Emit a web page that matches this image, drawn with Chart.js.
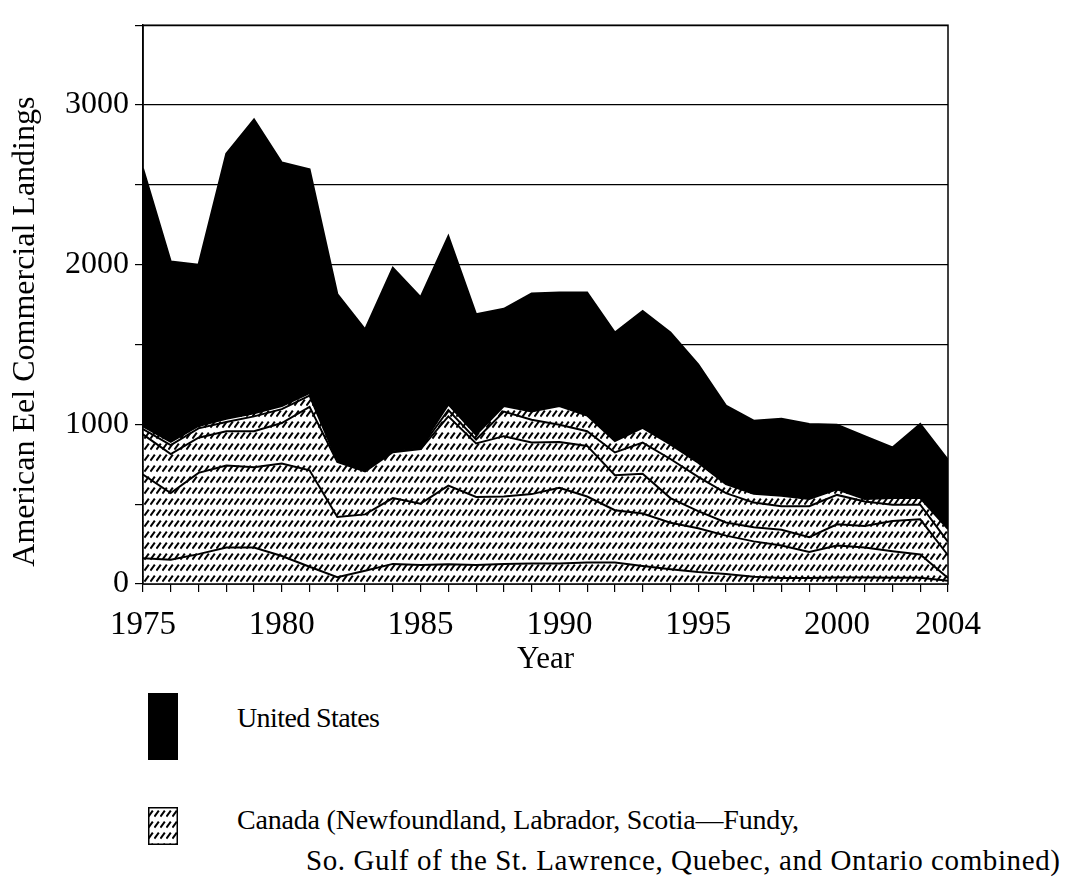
<!DOCTYPE html>
<html>
<head>
<meta charset="utf-8">
<script src="https://cdn.jsdelivr.net/npm/chart.js@4.4.1/dist/chart.umd.min.js"></script>
<style>
  body { margin: 0; background: #fff; }
  #wrap { position: relative; width: 1080px; height: 895px; font-family: "Liberation Serif", "Times New Roman", serif; color: #000; }
  #chart { position: absolute; left: 0; top: 0; }
  .key { position: absolute; left: 148px; }
  .txt { position: absolute; font-size: 28px; line-height: 32px; white-space: nowrap; }
</style>
</head>
<body>
<div id="wrap">
  <canvas id="chart" width="1080" height="690"></canvas>
  <div class="key" style="top:693px;width:30px;height:67px;background:#000"></div>
  <div class="txt" style="left:237px;top:702px;letter-spacing:-0.6px">United States</div>
  <canvas class="key" id="keyCA" width="30" height="38" style="top:807px"></canvas>
  <div class="txt" style="left:237px;top:804px;letter-spacing:-0.2px">Canada (Newfoundland, Labrador, Scotia—Fundy,</div>
  <div class="txt" style="left:306px;top:844px;font-size:29px;letter-spacing:0.6px">So. Gulf of the St. Lawrence, Quebec, and Ontario combined)</div>
</div>
<script>
// years on the x axis
const years = [1975, 1976, 1977, 1978, 1979, 1980, 1981, 1982, 1983, 1984,
  1985, 1986, 1987, 1988, 1989, 1990, 1991, 1992, 1993, 1994,
  1995, 1996, 1997, 1998, 1999, 2000, 2001, 2002, 2003, 2004];
const xLabels = [1975, 1980, 1985, 1990, 1995, 2000, 2004];

// Canadian bands, bottom to top (stacked)
const canada1 = [162, 152, 187, 228, 228, 175, 108, 42, 83, 126,
  119, 123, 119, 125, 129, 129, 134, 134, 113, 93,
  75, 62, 45, 38, 38, 40, 40, 39, 39, 20];
const canada2 = [524, 418, 509, 514, 504, 580, 604, 378, 353, 412,
  384, 493, 426, 423, 434, 474, 414, 328, 328, 291,
  274, 241, 222, 203, 162, 201, 188, 166, 146, 17];
const canada3 = [251, 244, 220, 215, 225, 253, 398, 345, 269, 287,
  342, 434, 335, 378, 323, 287, 317, 219, 250, 154,
  107, 82, 88, 99, 93, 133, 136, 189, 220, 143];
const canada4 = [33, 56, 59, 58, 93, 87, 70, 5, 7, 5,
  5, 40, 25, 154, 143, 108, 92, 143, 195, 245,
  215, 184, 155, 147, 194, 184, 153, 103, 92, 84];
const canada5 = [18, 20, 15, 20, 19, 20, 15, 10, 3, 10,
  8, 35, 30, 35, 51, 117, 98, 72, 92, 92,
  89, 56, 55, 65, 46, 35, 16, 41, 41, 80];
// United States, stacked on top of Canada
const unitedStates = [1615, 1130, 1010, 1660, 1841, 1525, 1402, 1036, 880, 1140,
  938, 1053, 754, 609, 740, 711, 771, 679, 732, 700,
  616, 492, 458, 483, 469, 405, 393, 317, 464, 433];

const FONT = '"Liberation Serif", "Times New Roman", serif';
const yTitle = 'American Eel Commercial Landings';

function hatchTile() {
  const c = document.createElement('canvas');
  c.width = 6; c.height = 11;
  const g = c.getContext('2d');
  g.fillStyle = '#fff';
  g.fillRect(0, 0, 6, 11);
  g.strokeStyle = '#000';
  g.lineWidth = 2;
  g.beginPath();
  g.moveTo(0.4, 9.6);
  g.lineTo(4.8, 3.6);
  g.stroke();
  return c;
}

const canvas = document.getElementById('chart');
const ctx = canvas.getContext('2d');
const hatch = ctx.createPattern(hatchTile(), 'repeat');

// legend swatch for Canada
const kc = document.getElementById('keyCA').getContext('2d');
kc.fillStyle = kc.createPattern(hatchTile(), 'repeat');
kc.fillRect(0, 0, 30, 38);
kc.strokeStyle = '#000';
kc.lineWidth = 1.5;
kc.strokeRect(0.75, 0.75, 28.5, 36.5);

function band(label, values, fill, color) {
  return {
    label: label,
    data: years.map((x, i) => ({ x: x, y: values[i] })),
    fill: fill,
    backgroundColor: color,
    borderColor: '#000',
    borderWidth: 2,
    pointRadius: 0,
    tension: 0
  };
}

// box round the plot plus the rotated y title
const frame = {
  id: 'frame',
  afterDatasetsDraw(chart) {
    const a = chart.chartArea;
    const c = chart.ctx;
    c.save();
    c.strokeStyle = '#000';
    c.lineWidth = 1.5;
    c.strokeRect(a.left, a.top, a.right - a.left, a.bottom - a.top);
    c.translate(26, (a.top + a.bottom) / 2 + 27);
    c.rotate(-Math.PI / 2);
    c.fillStyle = '#000';
    c.font = '32px ' + FONT;
    c.textAlign = 'center';
    c.textBaseline = 'middle';
    c.fillText(yTitle, 0, 0);
    c.restore();
  }
};

new Chart(ctx, {
  type: 'line',
  data: {
    datasets: [
      band('Canada 1', canada1, 'origin', hatch),
      band('Canada 2', canada2, '-1', hatch),
      band('Canada 3', canada3, '-1', hatch),
      band('Canada 4', canada4, '-1', hatch),
      band('Canada 5', canada5, '-1', hatch),
      band('United States', unitedStates, '-1', '#000')
    ]
  },
  plugins: [frame],
  options: {
    responsive: false,
    animation: false,
    devicePixelRatio: 1,
    layout: { padding: { top: 14, right: 132, left: 0, bottom: 0 } },
    plugins: { legend: { display: false }, tooltip: { enabled: false } },
    scales: {
      x: {
        type: 'linear',
        min: 1975,
        max: 2004,
        afterFit: s => { s.height = 106; },
        grid: { drawOnChartArea: false, drawTicks: true, tickLength: 8, color: '#000', lineWidth: 1.2 },
        border: { color: '#000', width: 1.5 },
        ticks: {
          stepSize: 1,
          autoSkip: false,
          maxRotation: 0,
          padding: 14,
          color: '#000',
          font: { family: FONT, size: 33 },
          callback: v => xLabels.includes(v) ? String(v) : ''
        },
        title: { display: true, text: 'Year', color: '#000', font: { family: FONT, size: 31 }, padding: { top: 0, bottom: 12 } }
      },
      y: {
        stacked: true,
        min: 0,
        max: 3500,
        afterFit: s => { s.width = 143; },
        grid: { color: '#000', lineWidth: 1.2, tickLength: 8 },
        border: { color: '#000', width: 1.5 },
        ticks: {
          stepSize: 500,
          padding: 6,
          color: '#000',
          font: { family: FONT, size: 32 },
          callback: v => v % 1000 === 0 ? String(v) : ''
        }
      }
    }
  }
});
</script>
</body>
</html>
